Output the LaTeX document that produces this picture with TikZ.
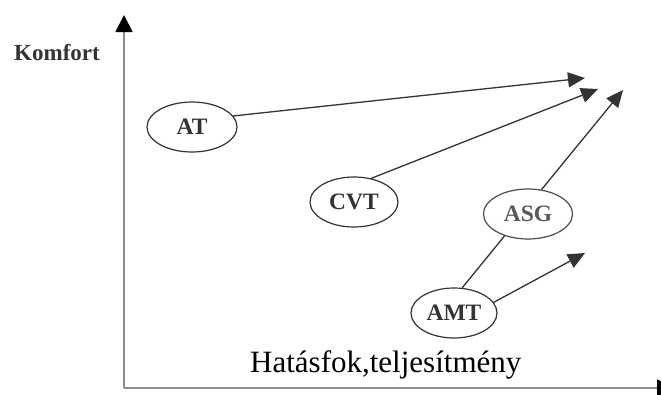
\documentclass[tikz,border=0pt]{standalone}
\usepackage{fontspec}
\setmainfont{Liberation Serif}
\usetikzlibrary{shapes.geometric,arrows.meta}
\begin{document}
\begin{tikzpicture}[x=1pt,y=-1pt,
  state/.style={ellipse, draw=black!80, line width=1.2pt, minimum width=88pt,
    minimum height=50pt, inner sep=0pt,
    font=\fontsize{23.5}{23.5}\selectfont\bfseries, text=black!80},
  conn/.style={draw=black!80, line width=1.3pt},
  arr/.style={conn, -{Triangle[length=17pt,width=15pt]}},
  axisline/.style={draw=black!45, line width=1.8pt,
    -{Triangle[length=17pt,width=17pt,color=black]}},
  lbl/.style={inner sep=0pt, anchor=base west}]
\clip (0,0) rectangle (661,394);
\useasboundingbox (0,0) rectangle (661,394);
% axes
\coordinate (O) at (124,388);
\coordinate (ytip) at (124,15);
\coordinate (xtip) at (674,388);
\draw[axisline] (O) -- (ytip);
\draw[axisline] (O) -- (xtip);
% labels
\node[lbl, font=\fontsize{23}{23}\selectfont\bfseries, text=black!80] (kom) at (14,60) {Komfort};
\node[lbl, font=\fontsize{31}{31}\selectfont] (hat) at (250,372) {Hatásfok,teljesítmény};
% states
\node[state, minimum width=90pt] (AT) at (192,127) {AT};
\node[state] (CVT) at (354,202) {CVT};
\node[state, minimum width=89pt, text=black!65, draw=black!70] (ASG) at (528,214) {ASG};
\node[state, minimum width=86pt] (AMT) at (454,313) {AMT};
% free ends
\coordinate (t1) at (585,78);
\coordinate (t2) at (598,89);
\coordinate (t3) at (623,90);
\coordinate (t4) at (585,253);
% connectors
\draw[arr] (AT.15) -- (t1);
\draw[arr] (CVT.54) -- (t2);
\draw[arr] (ASG.61) -- (t3);
\draw[conn] (AMT.72) -- (ASG.223);
\draw[arr] (AMT.15) -- (t4);
\end{tikzpicture}
\end{document}
